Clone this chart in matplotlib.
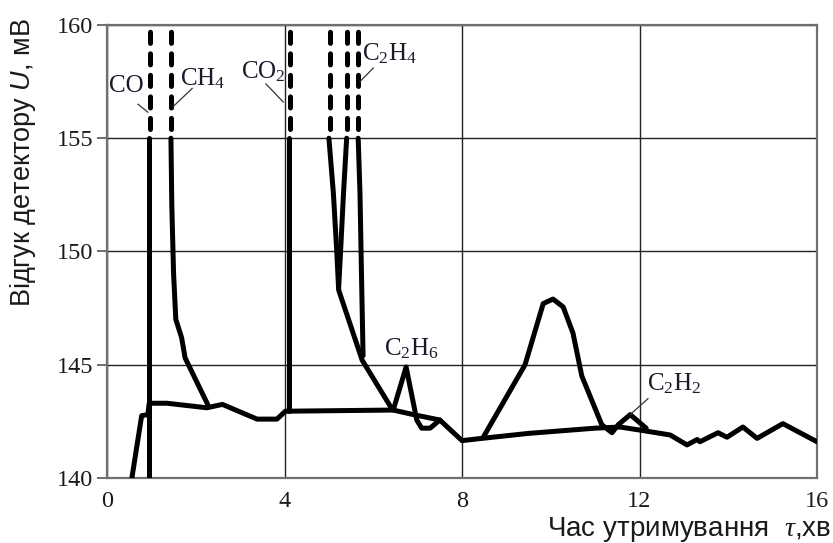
import matplotlib.pyplot as plt

plt.rcParams['mathtext.fontset'] = 'custom'
plt.rcParams['mathtext.rm'] = 'Liberation Serif'
plt.rcParams['mathtext.it'] = 'Liberation Serif:italic'
plt.rcParams['mathtext.sf'] = 'Liberation Sans:italic'
plt.rcParams['lines.scale_dashes'] = False

# baseline of the chromatogram (time, min / response, mV)
base_t = [0.56, 0.78, 0.92, 0.95, 1.35, 2.25, 2.6, 3.38, 3.83, 4.02, 4.08, 6.45, 6.9,
          7.5, 8.0, 8.45, 9.5, 11.0, 11.56, 12.06, 12.69, 13.07, 13.3, 13.36, 13.77,
          13.97, 14.33, 14.65, 15.23, 16.0]
base_u = [140.0, 142.75, 142.8, 143.3, 143.3, 143.1, 143.25, 142.6, 142.6, 142.95, 142.95,
          143.0, 142.8, 142.56, 141.65, 141.75, 141.97, 142.2, 142.25, 142.1, 141.9, 141.46,
          141.7, 141.6, 142.0, 141.8, 142.25, 141.75, 142.4, 141.6]

# off-scale peaks: solid part up to 155, dashed part 155..160
co_t, co_u = [0.95, 0.95], [140.0, 155.0]
co2_t, co2_u = [4.1, 4.1], [142.95, 155.0]
ch4_t = [1.44, 1.46, 1.5, 1.55, 1.68, 1.76, 2.28]
ch4_u = [155.0, 152.0, 149.0, 147.0, 146.2, 145.3, 143.2]
c2h4a_t = [5.0, 5.1, 5.18, 5.22, 5.75, 6.42]
c2h4a_u = [155.0, 152.6, 149.9, 148.3, 145.2, 143.05]
c2h4b_t = [5.4, 5.33, 5.26, 5.22]
c2h4b_u = [155.0, 152.6, 149.9, 148.4]
c2h4c_t = [5.66, 5.7, 5.74, 5.77]
c2h4c_u = [155.0, 152.6, 148.4, 145.4]
top_t = [0.97, 1.44, 4.13, 5.03, 5.41, 5.65]

c2h6_t = [6.45, 6.74, 6.98, 7.09, 7.28, 7.5]
c2h6_u = [143.0, 144.9, 142.56, 142.2, 142.2, 142.56]

big_t = [8.47, 9.42, 9.83, 10.05, 10.28, 10.5, 10.7, 11.15, 11.38, 11.52, 11.79, 12.15]
big_u = [141.77, 145.0, 147.7, 147.9, 147.55, 146.4, 144.5, 142.35, 142.0, 142.35, 142.8, 142.2]

fig = plt.figure(figsize=(8.33, 5.43), dpi=100)
ax = fig.add_axes([0.1285, 0.1197, 0.8523, 0.8343])

lw = 3.6
kw = dict(color='black', lw=lw, solid_joinstyle='round', solid_capstyle='round', zorder=3)
ax.plot(base_t, base_u, **kw)
ax.plot(co_t, co_u, **kw)
ax.plot(co2_t, co2_u, **kw)
ax.plot(ch4_t, ch4_u, **kw)
ax.plot(c2h4a_t, c2h4a_u, **kw)
ax.plot(c2h4b_t, c2h4b_u, **kw)
ax.plot(c2h4c_t, c2h4c_u, **kw)
ax.plot(c2h6_t, c2h6_u, **kw)
ax.plot(big_t, big_u, **kw)
for t in top_t:
    ax.plot([t, t], [155.4, 160], color='black', lw=lw, linestyle=(0, (8, 7.5)),
            dash_capstyle='round', zorder=3)

ax.set_xlim(0, 16)
ax.set_ylim(140, 160)
ax.set_xticks([0, 4, 8, 12, 16])
ax.set_yticks([140, 145, 150, 155, 160])
ax.grid(True, color='#222222', lw=1.0, zorder=1)
for s in ax.spines.values():
    s.set_color('#707070')
    s.set_linewidth(1.6)
ax.tick_params(axis='y', length=7, width=1.2, color='#555555', pad=3)
ax.tick_params(axis='x', length=0, pad=9)
for lab in ax.get_xticklabels() + ax.get_yticklabels():
    lab.set_fontfamily('Liberation Serif')
    lab.set_fontsize(17.5)
    lab.set_color('#1a1a1a')

# peak labels with leader lines
lab_kw = dict(family='Liberation Serif', fontsize=18, color='#1a1a2a', zorder=4)
line_kw = dict(color='#333333', lw=0.9, zorder=4)
ax.text(0.05, 157.3, 'CO', va='center', ha='left', **lab_kw)
ax.plot([0.70, 0.92], [156.5, 156.15], **line_kw)
ax.text(1.65, 157.65, r'CH$_4$', va='center', ha='left', **lab_kw)
ax.plot([1.49, 1.92], [156.4, 157.2], **line_kw)
ax.text(3.02, 157.95, r'CO$_2$', va='center', ha='left', **lab_kw)
ax.plot([3.58, 3.97], [157.4, 156.6], **line_kw)
ax.text(5.74, 158.75, r'C$_2$H$_4$', va='center', ha='left', **lab_kw)
ax.plot([6.0, 5.7], [158.1, 157.5], **line_kw)
ax.text(6.25, 145.7, r'C$_2$H$_6$', va='center', ha='left', **lab_kw)
ax.text(12.17, 144.15, r'C$_2$H$_2$', va='center', ha='left', **lab_kw)
ax.plot([11.79, 12.19], [142.8, 143.5], **line_kw)

fig.text(0.028, 1 - 18 / 543, r'Відгук детектору $\mathsf{U}$, мВ', rotation=90,
         ha='center', va='top', family='Liberation Sans', fontsize=19.5, color='#1a1a1a')
fig.text(831 / 833, 1 - 536 / 543, r'Час утримування  $\tau$,хв', ha='right',
         va='baseline', family='Liberation Sans', fontsize=20, color='#1a1a1a')

fig.savefig('out.png', dpi=100)
